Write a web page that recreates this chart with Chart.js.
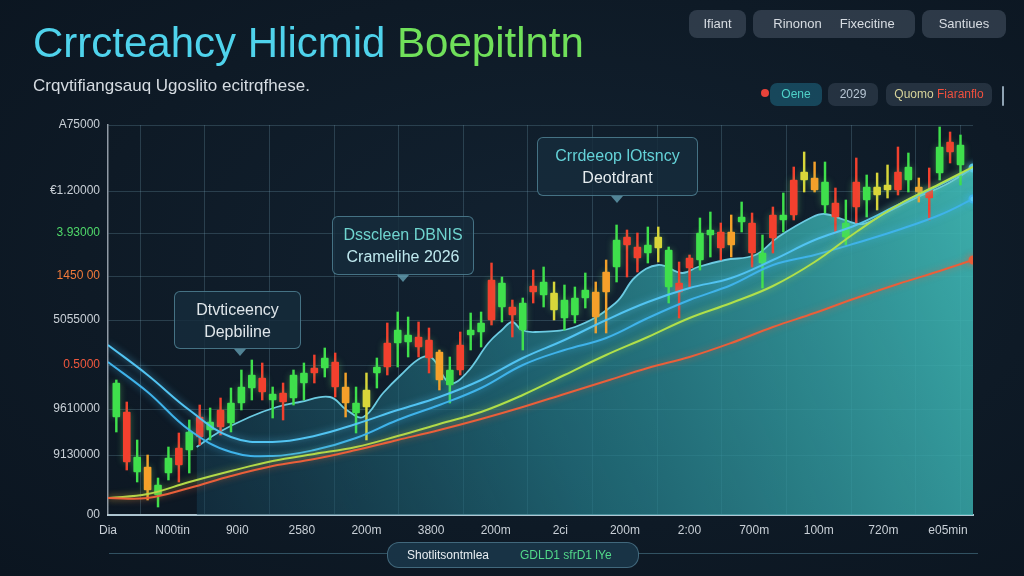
<!DOCTYPE html>
<html>
<head>
<meta charset="utf-8">
<script src="https://cdn.jsdelivr.net/npm/chart.js@4/dist/chart.umd.min.js"></script>
<style>
  html, body { margin: 0; padding: 0; background: #0d1924; }
  #wrap {
    position: relative; width: 1024px; height: 576px; overflow: hidden;
    background: radial-gradient(ellipse at 55% 45%, #122231 0%, #0e1a26 60%, #0b1520 100%);
    font-family: "Liberation Sans", Arial, sans-serif;
  }
  canvas { position: absolute; left: 0; top: 0; }
  .title { position: absolute; left: 33px; top: 22px; font-size: 42px; line-height: 1; color: #4fd3ec; white-space: nowrap; }
  .title .g { color: #70e05a; }
  .sub { position: absolute; left: 33px; top: 77px; font-size: 17px; line-height: 1; color: #d6dce2; white-space: nowrap; }
  .btn { position: absolute; top: 10px; height: 28px; line-height: 28px; border-radius: 8px;
    background: rgba(72, 86, 102, 0.55); color: #d8dde3; font-size: 13px; text-align: center; white-space: nowrap; }
  .chip { position: absolute; top: 83px; height: 23px; line-height: 23px; border-radius: 7px;
    background: rgba(60, 74, 90, 0.5); color: #b8c6d4; font-size: 12px; text-align: center; white-space: nowrap; }
  .dot { position: absolute; left: 761px; top: 89px; width: 8px; height: 8px; border-radius: 50%; background: #e8433a; }
  .note { position: absolute; border: 1px solid rgba(110, 175, 195, 0.55); border-radius: 6px;
    background: rgba(22, 44, 60, 0.82); text-align: center; font-size: 16px; line-height: 22px; white-space: nowrap;
    padding-top: 7px; box-sizing: border-box; }
  .tip { position: absolute; bottom: -8px; width: 0; height: 0;
    border-left: 6px solid transparent; border-right: 6px solid transparent; border-top: 7px solid rgba(110, 175, 195, 0.7); }
  .pill { position: absolute; left: 387px; top: 542px; width: 250px; height: 24px; border-radius: 12px;
    border: 1px solid rgba(100, 150, 170, 0.55); background: rgba(28, 58, 78, 0.8); font-size: 12px; line-height: 24px; }
  .rule { position: absolute; top: 553px; height: 1px; background: rgba(80, 130, 150, 0.55); }
</style>
</head>
<body>
<div id="wrap">
  <canvas id="chart" width="1024" height="576"></canvas>

  <div class="title">Crrcteahcy Hlicmid <span class="g">Boepitlntn</span></div>
  <div class="sub">Crqvtifiangsauq Ugoslito ecitrqfhese.</div>

  <div class="btn" style="left:689px; width:57px;">Ifiant</div>
  <div class="btn" style="left:753px; width:162px;">Rinonon &nbsp;&nbsp;&nbsp; Fixecitine</div>
  <div class="btn" style="left:922px; width:84px;">Santiues</div>

  <div class="chip" style="left:770px; width:52px; background:rgba(28,100,125,0.6); color:#4fd1c8;">Oene</div>
  <div class="dot"></div>
  <div class="chip" style="left:828px; width:50px;">2029</div>
  <div class="chip" style="left:886px; width:106px;"><span style="color:#d6d39a">Quomo</span> <span style="color:#f0503e">Fiaranflo</span></div>
  <div style="position:absolute; left:1002px; top:86px; width:2px; height:20px; background:#8fa3b3; border-radius:1px;"></div>

  <div class="note" style="left:174px; top:291px; width:127px; height:58px; color:#dfe6ea;">
    Dtvticeency<br>Depbiline<span class="tip" style="left:59px;"></span>
  </div>
  <div class="note" style="left:332px; top:216px; width:142px; height:59px;">
    <span style="color:#6fd4cf">Dsscleen DBNIS</span><br><span style="color:#bfe9ef">Cramelihe 2026</span><span class="tip" style="left:64px;"></span>
  </div>
  <div class="note" style="left:537px; top:137px; width:161px; height:59px;">
    <span style="color:#64d2d8">Crrdeeop lOtsncy</span><br><span style="color:#e6ecef">Deotdrant</span><span class="tip" style="left:73px;"></span>
  </div>

  <div class="rule" style="left:109px; width:278px;"></div>
  <div class="rule" style="left:638px; width:340px;"></div>
  <div class="pill">
    <span style="position:absolute; left:19px; color:#e8eef2;">Shotlitsontmlea</span>
    <span style="position:absolute; left:132px; color:#52d88a;">GDLD1 sfrD1 lYe</span>
  </div>
</div>

<script>
// axis labels
const xLabels = ["Dia", "N00tin", "90i0", "2580", "200m", "3800", "200m", "2ci", "200m", "2:00", "700m", "100m", "720m", "e05min"];
const yTickValues = [0, 60, 106, 150, 195, 239, 282, 324, 390];
const yLabels = ["00", "9130000", "9610000", "0.5000", "5055000", "1450 00", "3.93000", "€1.20000", "A75000"];
const yLabelColors = ["#c9d0d7", "#c9d0d7", "#c9d0d7", "#f0583e", "#c9d0d7", "#f07a3a", "#4fd86a", "#c9d0d7", "#c9d0d7"];

// candles (one per period, left to right)
const candleOpen = [98, 103, 43, 48, 20, 42, 67, 65, 98, 85, 105, 92, 112, 127, 137, 115, 122, 117, 132, 147, 147, 153, 128, 112, 108, 142, 148, 185, 173, 168, 175, 163, 145, 145, 185, 183, 195, 232, 200, 212, 223, 233, 205, 215, 200, 217, 223, 223, 248, 278, 268, 262, 278, 265, 223, 247, 255, 285, 283, 270, 293, 292, 262, 277, 300, 300, 343, 325, 333, 312, 292, 308, 328, 320, 330, 325, 348, 328, 325, 342, 373, 370];
const candleClose = [132, 53, 58, 25, 30, 57, 50, 83, 78, 93, 88, 112, 128, 140, 123, 121, 113, 140, 142, 142, 157, 128, 112, 102, 125, 148, 172, 172, 180, 178, 157, 135, 130, 170, 180, 192, 235, 208, 208, 185, 229, 220, 222, 197, 217, 225, 198, 243, 275, 270, 257, 270, 267, 228, 232, 257, 282, 280, 267, 283, 298, 262, 252, 300, 295, 335, 335, 337, 310, 298, 278, 333, 315, 328, 325, 343, 335, 323, 317, 368, 363, 350];
const candleHigh = [135, 113, 75, 60, 37, 68, 82, 95, 110, 107, 117, 127, 145, 155, 152, 128, 132, 145, 152, 160, 167, 162, 142, 128, 142, 157, 192, 203, 198, 193, 187, 165, 158, 183, 202, 203, 252, 238, 215, 217, 245, 248, 233, 230, 228, 242, 233, 255, 290, 285, 282, 288, 288, 268, 253, 260, 297, 303, 292, 300, 313, 302, 280, 308, 322, 348, 363, 353, 353, 327, 315, 357, 340, 342, 350, 368, 362, 337, 347, 388, 383, 380];
const candleLow = [83, 45, 33, 15, 8, 35, 33, 42, 70, 75, 80, 83, 105, 115, 115, 97, 95, 110, 115, 132, 138, 118, 98, 82, 75, 127, 140, 148, 158, 158, 142, 125, 112, 140, 165, 168, 190, 193, 178, 165, 212, 208, 195, 185, 192, 207, 182, 182, 233, 238, 243, 252, 253, 212, 197, 228, 245, 258, 255, 258, 283, 248, 227, 262, 283, 295, 323, 323, 302, 282, 270, 292, 298, 305, 317, 320, 323, 313, 295, 335, 352, 330];
const candleTone = "grgoggrgrgrgggrgrggrgrogygrggrrogrggrgrgrgygggoogrrgygrrggrogrgrgryogrgrgyyrgor";

// trend lines, sampled at these candle positions
const lineX = [-0.8, 3, 7, 11, 15, 19, 23, 27, 31, 35, 39, 43, 47, 51, 55, 59, 63, 67, 71, 75, 79, 82.2];
const blueUpper = [170, 140, 105, 78, 73, 79, 91, 105, 118, 135, 157, 175, 195, 213, 227, 237, 255, 275, 290, 310, 330, 347];
const blueLower = [153, 123, 85, 63, 59, 65, 77, 95, 110, 127, 150, 165, 177, 197, 215, 230, 250, 260, 272, 285, 300, 316];
const greenLine = [17, 21, 33, 44, 54, 61, 68, 79, 91, 103, 120, 140, 160, 178, 197, 212, 229, 253, 283, 310, 331, 348];
const orangeLine = [17, 17, 27, 39, 49, 56, 65, 75, 85, 96, 108, 121, 134, 147, 158, 172, 188, 202, 217, 231, 244, 255];

// shaded band following the candle lows
const areaX = [7.7, 9.7, 12.8, 15.4, 17.6, 20.5, 22.1, 23.7, 25.6, 27.3, 29.2, 30.3, 32, 33.6, 35.7, 37, 38, 38.9, 40.2, 44, 47.9, 49.8, 52, 54.3, 55.8, 58.4, 61.3, 63.5, 66.8, 68, 69.9, 71.6, 73.8, 76.9, 79.5, 82.2];
const areaY = [68, 82, 98, 108, 113, 118, 105, 98, 122, 140, 157, 157, 132, 142, 172, 185, 193, 185, 183, 188, 212, 238, 250, 242, 248, 255, 260, 278, 298, 301, 295, 291, 302, 318, 330, 347];

const toneColors = { g: "#3fe04c", r: "#f2402e", o: "#f5a02a", y: "#d9d63a" };
const candleColors = candleTone.split("").map((t) => toneColors[t]);

const toPoints = (xs, ys) => xs.map((x, i) => ({ x, y: ys[i] }));
const lastDot = (n) => (c) => (c.dataIndex === n - 1 ? 3.5 : 0);

const glowPlugin = {
  id: "glow",
  beforeDatasetDraw(chart, args) {
    const ds = chart.data.datasets[args.index];
    if (!ds.glow) return;
    chart.ctx.save();
    chart.ctx.shadowColor = ds.glow;
    chart.ctx.shadowBlur = 7;
  },
  afterDatasetDraw(chart, args) {
    if (chart.data.datasets[args.index].glow) chart.ctx.restore();
  },
};

function areaFill(ctx) {
  const a = ctx.chart.chartArea;
  if (!a) return "transparent";
  const g = ctx.chart.ctx.createLinearGradient(a.left + 60, a.bottom + 40, a.right, a.top + 60);
  g.addColorStop(0, "rgba(22, 58, 80, 0.45)");
  g.addColorStop(0.45, "rgba(36, 122, 136, 0.72)");
  g.addColorStop(1, "rgba(64, 186, 182, 0.92)");
  return g;
}

const lineBase = { type: "line", tension: 0.4, borderWidth: 2, pointRadius: 0, fill: false };

new Chart(document.getElementById("chart"), {
  type: "bar",
  data: {
    datasets: [
      {
        ...lineBase,
        data: toPoints(areaX, areaY),
        borderColor: "#6ccbe2",
        borderWidth: 1.8,
        fill: "origin",
        backgroundColor: areaFill,
        order: 6,
      },
      {
        ...lineBase,
        data: toPoints(lineX, orangeLine),
        borderColor: "#ea5f3a",
        pointRadius: lastDot(lineX.length),
        pointBackgroundColor: "#ea5f3a",
        glow: "rgba(234,95,58,0.6)",
        order: 1,
      },
      {
        ...lineBase,
        data: toPoints(lineX, greenLine),
        borderColor: "#b0e04a",
        glow: "rgba(176,224,74,0.6)",
        order: 1,
      },
      {
        ...lineBase,
        data: toPoints(lineX, blueLower),
        borderColor: "#3fb3ea",
        pointRadius: lastDot(lineX.length),
        pointBackgroundColor: "#5fd0f5",
        glow: "rgba(63,179,234,0.7)",
        order: 1,
      },
      {
        ...lineBase,
        data: toPoints(lineX, blueUpper),
        borderColor: "#52c4f2",
        pointRadius: lastDot(lineX.length),
        pointBackgroundColor: "#6fdcf8",
        glow: "rgba(82,196,242,0.7)",
        order: 1,
      },
      {
        data: candleHigh.map((h, i) => ({ x: i, y: [candleLow[i], h] })),
        backgroundColor: candleColors,
        barThickness: 1.8,
        grouped: false,
        order: 4,
      },
      {
        data: candleOpen.map((o, i) => ({ x: i, y: [o, candleClose[i]] })),
        backgroundColor: candleColors,
        barThickness: 7,
        borderRadius: 1,
        borderSkipped: false,
        grouped: false,
        glow: "rgba(120,230,120,0.35)",
        order: 3,
      },
    ],
  },
  options: {
    responsive: false,
    animation: false,
    devicePixelRatio: 1,
    layout: { padding: { top: 125, right: 51, left: 0, bottom: 0 } },
    plugins: { legend: { display: false }, tooltip: { enabled: false } },
    scales: {
      x: {
        type: "linear",
        min: -0.8,
        max: 82.2,
        offset: false,
        afterBuildTicks: (s) => {
          const step = 6.2;
          s.ticks = xLabels.map((_, k) => ({ value: -0.8 + k * step }));
          s.ticks.push({ value: 82.2 });
        },
        afterFit: (s) => { s.height = 61; },
        ticks: {
          autoSkip: false,
          maxRotation: 0,
          padding: 8,
          color: "#c9d0d7",
          font: { family: "Liberation Sans", size: 12 },
          callback: (v, i) => xLabels[i] ?? "",
        },
        grid: { color: "rgba(120, 165, 185, 0.26)", drawTicks: false },
        border: { color: "rgba(200, 225, 235, 0.85)", width: 2 },
      },
      y: {
        min: 0,
        max: 390,
        afterBuildTicks: (s) => { s.ticks = yTickValues.map((v) => ({ value: v })); },
        afterFit: (s) => { s.width = 108; },
        ticks: {
          autoSkip: false,
          padding: 8,
          color: (c) => yLabelColors[c.index],
          font: { family: "Liberation Sans", size: 12 },
          callback: (v, i) => yLabels[i],
        },
        grid: { color: "rgba(120, 165, 185, 0.26)", drawTicks: false },
        border: { color: "rgba(200, 210, 220, 0.7)", width: 1.5 },
      },
    },
  },
  plugins: [glowPlugin],
});
</script>
</body>
</html>
